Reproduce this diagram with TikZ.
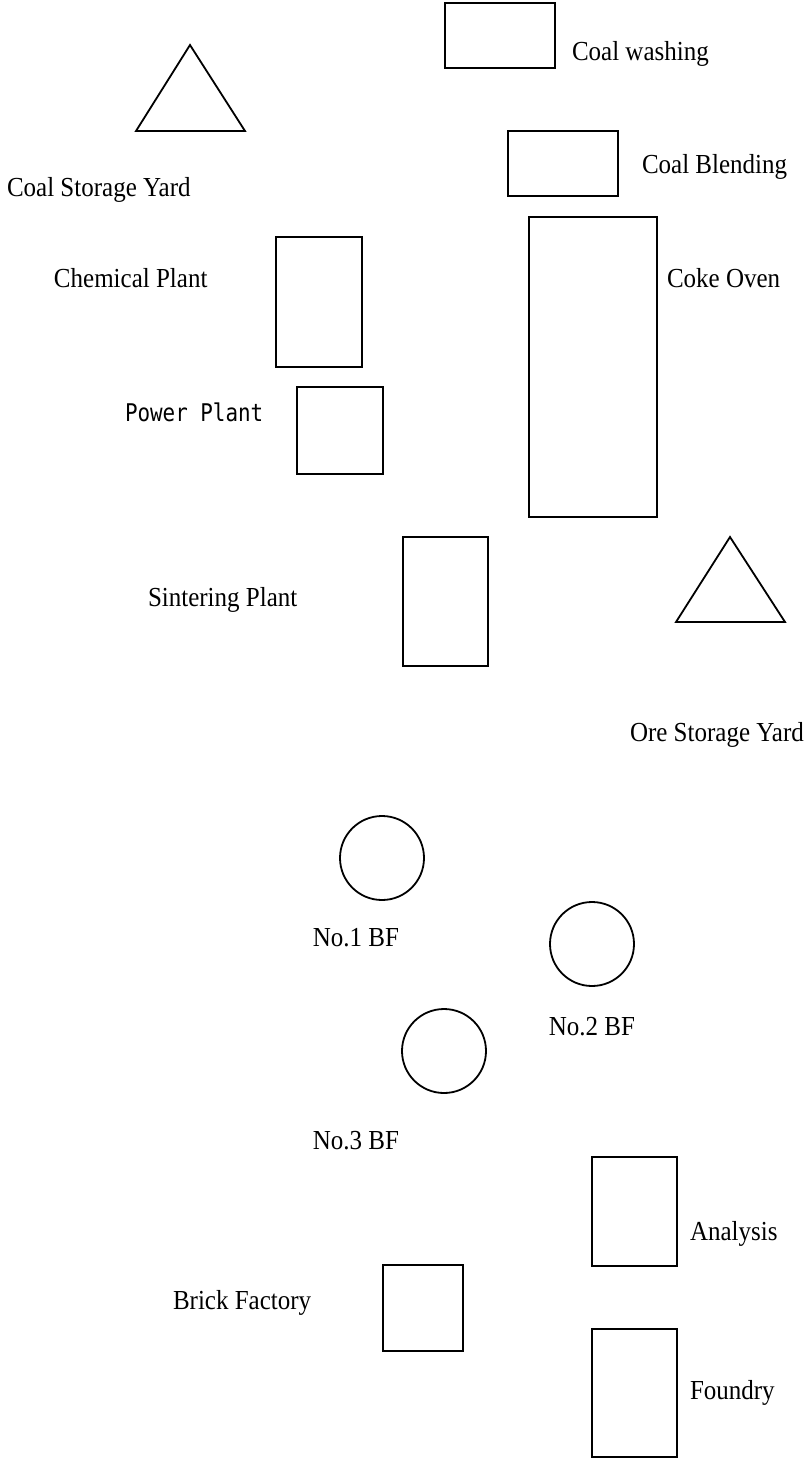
\documentclass[tikz,border=0pt]{standalone}
\usepackage{fontspec}
\setmainfont{Liberation Serif}
\newfontfamily\ppfont{DejaVu Sans Mono}
\newcommand{\tallt}[1]{\scalebox{1}[1.1]{#1}}
\begin{document}
\begin{tikzpicture}[x=0.5pt,y=-0.5pt,
  every node/.style={font=\fontsize{12.5pt}{15pt}\selectfont, inner sep=0pt, outer sep=0pt},
  box/.style={draw, rectangle, line width=0.9pt},
  furnace/.style={draw, circle, line width=0.9pt, minimum size=42pt},
  pile/.style={draw, line width=0.9pt, line join=miter},
  lbl/.style={anchor=base west},
  clbl/.style={anchor=base}]
\useasboundingbox (0,0) rectangle (806,1461);

% boxes
\node[box, minimum width=55pt, minimum height=32.5pt] (cw) at (500,35.5) {};
\node[box, minimum width=55pt, minimum height=32.5pt] (cb) at (563,163.5) {};
\node[box, minimum width=43pt, minimum height=65pt] (chem) at (319,302) {};
\node[box, minimum width=64pt, minimum height=150pt] (coke) at (593,367) {};
\node[box, minimum width=43pt, minimum height=43.5pt] (power) at (340,430.5) {};
\node[box, minimum width=42.5pt, minimum height=64.5pt] (sinter) at (445.5,601.5) {};
\node[box, minimum width=42.5pt, minimum height=54.5pt] (anal) at (634.5,1211.5) {};
\node[box, minimum width=42.5pt, minimum height=64pt] (found) at (634.5,1393) {};
\node[box, minimum width=40pt, minimum height=43pt] (brick) at (423,1308) {};

% blast furnaces
\node[furnace] (bf1) at (382,858) {};
\node[furnace] (bf2) at (592,944) {};
\node[furnace] (bf3) at (444,1051) {};

% storage yards
\coordinate (cy1) at (190,45);
\coordinate (cy2) at (136,131);
\coordinate (cy3) at (245,131);
\draw[pile] (cy1) -- (cy2) -- (cy3) -- cycle;
\coordinate (oy1) at (730,537);
\coordinate (oy2) at (676,622);
\coordinate (oy3) at (785,622);
\draw[pile] (oy1) -- (oy2) -- (oy3) -- cycle;

% labels
\node[lbl] (tcw) at (572,61) {\tallt{Coal washing}};
\node[lbl] (tcsy) at (7,196) {\tallt{Coal Storage Yard}};
\node[lbl] (tcb) at (642,173) {\tallt{Coal Blending}};
\node[lbl] (tchem) at (54,287) {\tallt{Chemical Plant}};
\node[lbl] (tcoke) at (667,287) {\tallt{Coke Oven}};
\node[lbl] (tpower) at (125,421) {\scalebox{0.9}[1.05]{\ppfont\fontsize{11.6pt}{14pt}\selectfont Power Plant}};
\node[lbl] (tsinter) at (148,606) {\tallt{Sintering Plant}};
\node[lbl] (tore) at (630,741) {\tallt{Ore Storage Yard}};
\node[clbl] (tbf1) at (356,946) {\tallt{No.1 BF}};
\node[clbl] (tbf2) at (592,1035) {\tallt{No.2 BF}};
\node[clbl] (tbf3) at (356,1149) {\tallt{No.3 BF}};
\node[lbl] (tanal) at (690,1240) {\tallt{Analysis}};
\node[lbl] (tbrick) at (173,1309) {\tallt{Brick Factory}};
\node[lbl] (tfound) at (690,1399) {\tallt{Foundry}};
\end{tikzpicture}
\end{document}
